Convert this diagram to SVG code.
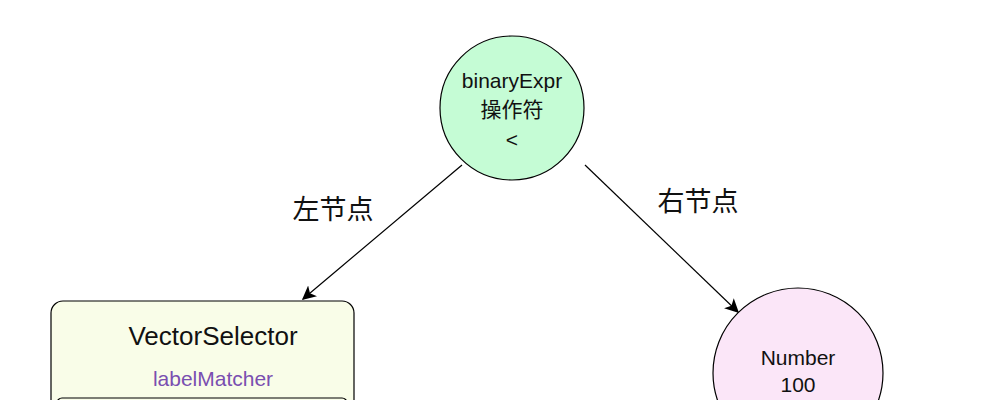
<svg xmlns="http://www.w3.org/2000/svg" width="983" height="400" viewBox="0 0 983 400">
<style>
text{font-family:"Liberation Sans","Noto Sans CJK SC",sans-serif;fill:#111;text-anchor:middle}
.n{stroke:#000;stroke-width:1.2}
.e{stroke:#000;stroke-width:1.2;fill:none;marker-end:url(#a)}
</style>
<defs><marker id="a" viewBox="0 0 10 10" refX="9" refY="5" markerWidth="14" markerHeight="14" markerUnits="userSpaceOnUse" orient="auto"><path d="M0,0L10,5L0,10L2.5,5z" fill="#000"/></marker></defs>
<rect width="983" height="400" fill="#fff"/>
<g id="connectors">
<path class="e" d="M462,165L303,299"/>
<path class="e" d="M585,165L738,312"/>
<text x="333" y="219" font-size="27">左节点</text>
<text x="698" y="211" font-size="27">右节点</text>
</g>
<g id="binaryExpr">
<circle class="n" cx="512" cy="108" r="72" fill="#c5fcd5"/>
<text x="512" y="88" font-size="21">binaryExpr</text>
<text x="512" y="117" font-size="21">操作符</text>
<text x="512" y="147" font-size="21">&lt;</text>
</g>
<g id="vectorSelector">
<rect class="n" x="51" y="301" width="303" height="130" rx="12" fill="#f9fde8"/>
<text x="213" y="345" font-size="26">VectorSelector</text>
<text x="213" y="386" font-size="21" style="fill:#7a4fb0">labelMatcher</text>
<rect class="n" x="57" y="398" width="290" height="30" rx="5" fill="#f9fde8"/>
</g>
<g id="number">
<circle class="n" cx="798" cy="373" r="85" fill="#fbe6f8"/>
<text x="798" y="365" font-size="21">Number</text>
<text x="798" y="392" font-size="21">100</text>
</g>
</svg>
